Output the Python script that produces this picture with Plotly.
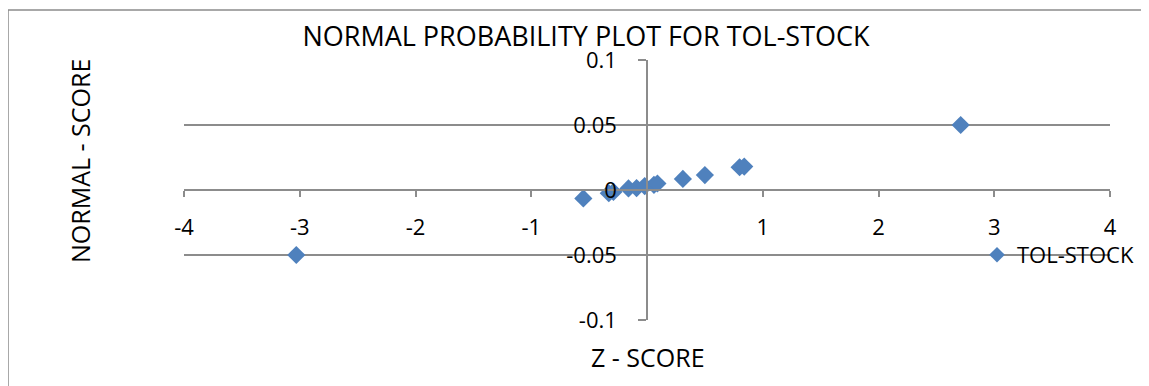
import plotly.graph_objects as go

series_name = "TOL-STOCK"
z_score = [-3.03, -0.55, -0.33, -0.29, -0.16, -0.09, -0.02, 0.06, 0.09, 0.31, 0.50, 0.80, 0.84, 2.71]
normal_score = [-0.05, -0.0065, -0.0025, -0.0015, 0.0012, 0.0015, 0.003, 0.004, 0.005, 0.0085, 0.0115, 0.0175, 0.018, 0.05]

x_ticks = [-4, -3, -2, -1, 0, 1, 2, 3, 4]
x_tick_labels = ["-4", "-3", "-2", "-1", "", "1", "2", "3", "4"]
y_ticks = [-0.1, -0.05, 0, 0.05, 0.1]
y_tick_labels = ["-0.1", "-0.05", "0", "0.05", "0.1"]

FONT = "Open Sans"
GRID = "#8c8c8c"

# page body has an 8px margin; plot area target: x 184..1110, y 60..320 (page px)
W, H = 1141, 378
L, R, T, B = 176, 39, 52, 66
PW, PH = W - L - R, H - T - B


def px_x(px):
    return (px - 8 - L) / PW


def px_y(py):
    return (H - B - (py - 8)) / PH


fig = go.Figure()
fig.add_trace(go.Scatter(
    x=z_score, y=normal_score, mode="markers", name=series_name,
    marker=dict(symbol="diamond", size=14, color="#4f81bd"),
))

fig.update_layout(
    width=W, height=H,
    margin=dict(l=L, r=R, t=T, b=B, autoexpand=False),
    paper_bgcolor="white", plot_bgcolor="white",
    font=dict(family=FONT, size=22, color="black"),
    showlegend=True,
    legend=dict(x=px_x(977), y=px_y(255), xanchor="left", yanchor="middle",
                bgcolor="rgba(0,0,0,0)", font=dict(size=22),
                itemsizing="constant", tracegroupgap=0),
    title=dict(text="NORMAL PROBABILITY PLOT FOR TOL-STOCK",
               x=px_x(586), xref="paper", xanchor="center",
               y=1 - (37 - 8) / H, yref="container", yanchor="middle",
               font=dict(family=FONT, size=27, color="black")),
    xaxis=dict(range=[-4, 4], tickvals=x_ticks, ticktext=x_tick_labels,
               showgrid=False, zeroline=False, showline=True, linecolor=GRID, linewidth=1.5,
               anchor="free", position=0.5, ticks="outside", ticklen=6, tickcolor=GRID,
               tickwidth=1.5, ticklabelstandoff=12, tickfont=dict(size=22)),
    yaxis=dict(range=[-0.1, 0.1], tickvals=y_ticks, ticktext=y_tick_labels,
               showgrid=True, gridcolor=GRID, gridwidth=1.5, zeroline=False,
               showline=True, linecolor=GRID, linewidth=1.5,
               anchor="free", position=0.5, ticks="outside", ticklen=8, tickcolor=GRID,
               tickwidth=1.5, ticklabelstandoff=17,
               tickfont=dict(size=22)),
    annotations=[
        dict(text="NORMAL - SCORE", xref="paper", yref="paper",
             x=px_x(80), y=px_y(161), textangle=-90,
             showarrow=False, font=dict(size=25), xanchor="center", yanchor="middle"),
        dict(text="Z - SCORE", xref="paper", yref="paper",
             x=px_x(648), y=px_y(357),
             showarrow=False, font=dict(size=25), xanchor="center", yanchor="middle"),
    ],
    shapes=[
        dict(type="rect", xref="paper", yref="paper",
             x0=px_x(8), x1=px_x(1170),
             y0=px_y(420), y1=px_y(10),
             line=dict(color="#8c8c8c", width=1.5), fillcolor="rgba(0,0,0,0)", layer="below"),
    ],
)

fig.write_html("out.html")
